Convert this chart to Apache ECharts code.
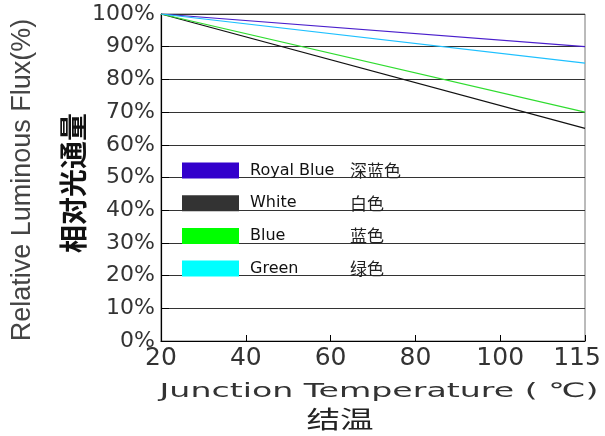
<!DOCTYPE html>
<html>
<head>
<meta charset="utf-8">
<script src="https://cdn.jsdelivr.net/npm/echarts@6/dist/echarts.min.js"></script>
<style>
html,body{margin:0;padding:0;background:#fff;}
#c{width:605px;height:436px;}
</style>
</head>
<body>
<div id="c"></div>
<script>
// Data
const categories = ['20', '40', '60', '80', '100', '115'];
const seriesNames = ['Royal Blue', 'White', 'Blue', 'Green'];
const seriesCn = ['深蓝色', '白色', '蓝色', '绿色'];
const royalBlue = [100, null, null, null, null, 90];
const white = [100, null, null, null, null, 65];
const blue = [100, null, null, null, null, 70];
const green = [100, null, null, null, null, 85];
const lineColors = ['#4a1fcc', '#111111', '#2fdc2f', '#1ec0ff'];
const legendColors = ['#3300cc', '#333333', '#00ff00', '#00ffff'];

const seriesData = [royalBlue, white, blue, green];
const cnMap = {};
seriesNames.forEach((n, i) => cnMap[n] = seriesCn[i]);

const chart = echarts.init(document.getElementById('c'));
const option = {
  animation: false,
  backgroundColor: '#fff',
  grid: {
    left: 161, right: 20, top: 14, bottom: 95,
    show: true, borderColor: '#777', borderWidth: 1
  },
  xAxis: {
    type: 'category',
    data: categories,
    boundaryGap: false,
    axisLine: { lineStyle: { color: '#000', width: 1.2 } },
    axisTick: { inside: true, length: 6, interval: 0, lineStyle: { color: '#000' } },
    axisLabel: {
      interval: 0,
      hideOverlap: false,
      showMaxLabel: true,
      showMinLabel: true,
      margin: 5,
      fontFamily: 'DejaVu Sans',
      fontSize: 25,
      color: '#333',
      formatter: (v, i) => i === categories.length - 1 ? '{r|' + v + '}' : v,
      rich: {
        r: { fontFamily: 'DejaVu Sans', fontSize: 25, color: '#333', padding: [0, 16, 0, 0] }
      }
    },
    splitLine: { show: false }
  },
  yAxis: {
    type: 'value',
    min: 0, max: 100, interval: 10,
    axisLine: { show: true, lineStyle: { color: '#000', width: 1.2 } },
    axisTick: { show: true, inside: true, length: 8, lineStyle: { color: '#000' } },
    axisLabel: {
      margin: 6,
      fontFamily: 'DejaVu Sans',
      fontSize: 22,
      color: '#333',
      formatter: '{value}%'
    },
    splitLine: { show: true, lineStyle: { color: '#333', width: 1 } }
  },
  legend: {
    orient: 'vertical',
    left: 182, top: 162,
    padding: 0,
    itemWidth: 57, itemHeight: 16, itemGap: 15.7,
    icon: 'rect',
    selectedMode: false,
    itemStyle: { borderWidth: 0 },
    data: seriesNames.map((n, i) => ({ name: n, itemStyle: { color: legendColors[i], borderWidth: 0 } })),
    formatter: n => '{en|' + n + '}{cn|' + cnMap[n] + '}',
    textStyle: {
      lineHeight: 16,
      rich: {
        en: { fontFamily: 'DejaVu Sans', fontSize: 16, color: '#111', width: 100, padding: [0, 0, 0, 6], lineHeight: 16 },
        cn: { fontFamily: 'Noto Sans CJK SC', fontSize: 17, color: '#222', lineHeight: 16 }
      }
    }
  },
  series: seriesNames.map((n, i) => ({
    name: n,
    type: 'line',
    data: seriesData[i],
    connectNulls: true,
    showSymbol: false,
    symbol: 'none',
    color: lineColors[i],
    lineStyle: { color: lineColors[i], width: 1.2 },
    z: 3
  })),
  graphic: [
    {
      type: 'text', x: 23, y: 180, rotation: Math.PI / 2,
      style: { text: 'Relative Luminous Flux(%)', font: '27px "Liberation Sans"', fill: '#444', textAlign: 'center', textVerticalAlign: 'middle' }
    },
    {
      type: 'text', x: 73, y: 183, rotation: Math.PI / 2,
      style: { text: '相对光通量', font: 'bold 28px "Noto Sans CJK SC"', fill: '#111', textAlign: 'center', textVerticalAlign: 'middle' }
    },
    {
      type: 'text', x: 379, y: 392, scaleX: 1.66,
      style: { text: 'Junction Temperature ( ℃)', font: '20px "DejaVu Sans"', fill: '#333', textAlign: 'center', textVerticalAlign: 'middle' }
    },
    {
      type: 'text', x: 340, y: 419, scaleX: 1.4,
      style: { text: '结温', font: '24px "Noto Sans CJK SC"', fill: '#222', textAlign: 'center', textVerticalAlign: 'middle' }
    }
  ]
};
chart.setOption(option);
</script>
</body>
</html>
